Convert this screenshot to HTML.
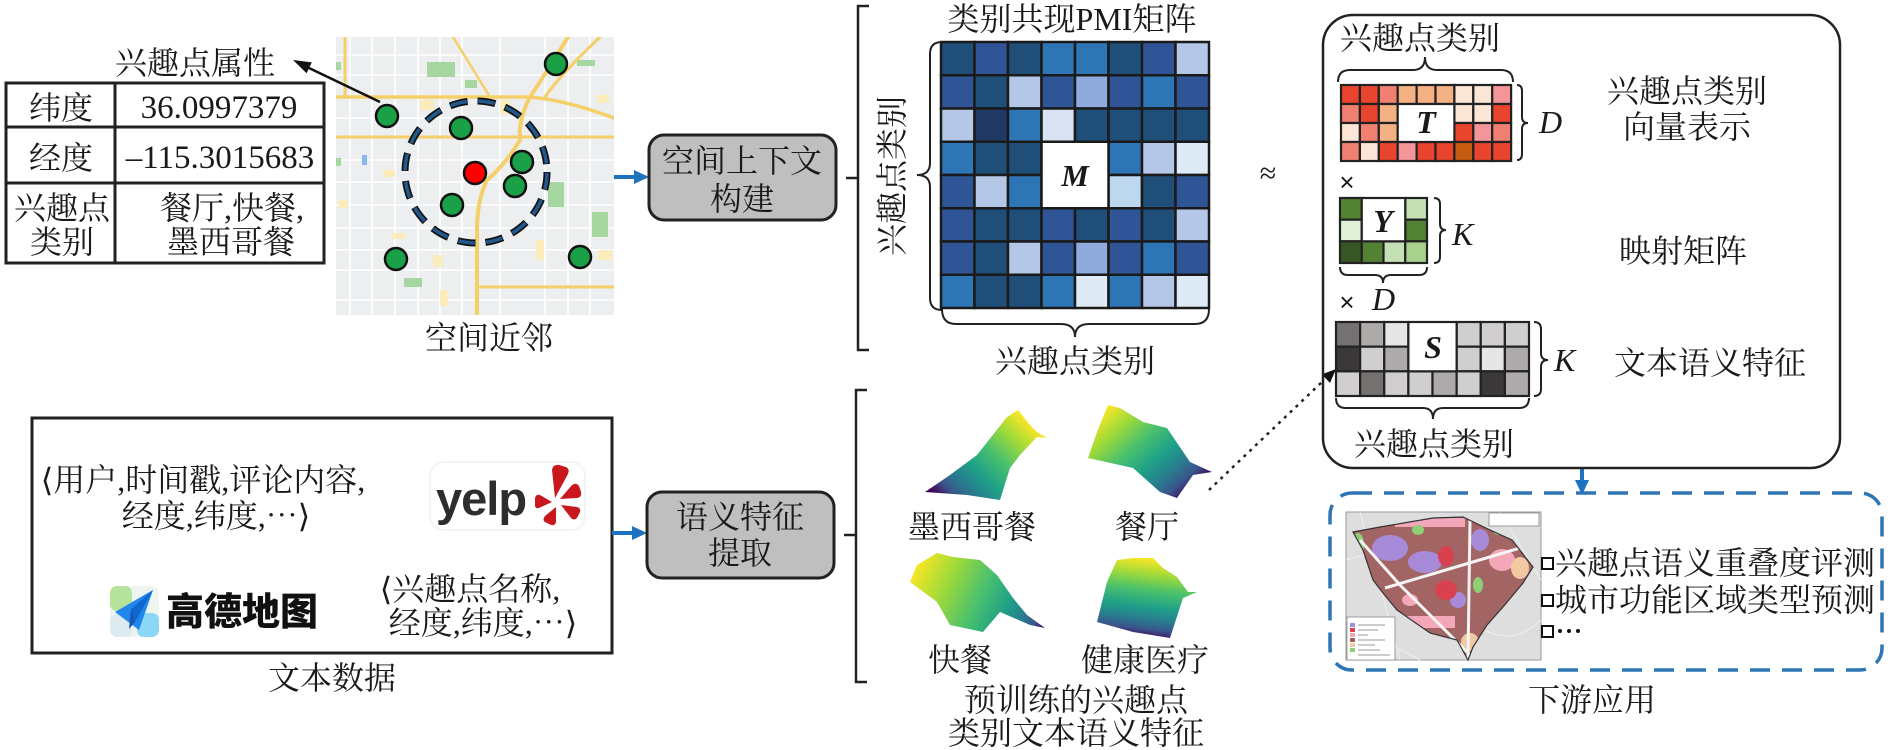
<!DOCTYPE html>
<html><head><meta charset="utf-8">
<style>
html,body{margin:0;padding:0;background:#fff;}
svg{display:block;}
text{font-family:"Liberation Serif","Noto Serif CJK SC","Noto Serif SC","Source Han Serif SC","Noto Serif CJK JP",serif;font-size:32px;fill:#1a1a1a;}
.c{text-anchor:middle;}
.it{font-style:italic;}
.bi{font-style:italic;font-weight:bold;}
</style></head>
<body>
<svg width="1888" height="750" viewBox="0 0 1888 750" xmlns="http://www.w3.org/2000/svg">
<defs>
<linearGradient id="g1" gradientUnits="userSpaceOnUse" x1="1018" y1="410" x2="935" y2="495">
<stop offset="0" stop-color="#fde725"/><stop offset="0.2" stop-color="#a0da39"/><stop offset="0.4" stop-color="#4ac16d"/><stop offset="0.6" stop-color="#1fa187"/><stop offset="0.75" stop-color="#277f8e"/><stop offset="0.88" stop-color="#39568c"/><stop offset="1" stop-color="#440154"/></linearGradient>
<linearGradient id="g2" gradientUnits="userSpaceOnUse" x1="1105" y1="408" x2="1185" y2="498">
<stop offset="0" stop-color="#fde725"/><stop offset="0.2" stop-color="#a0da39"/><stop offset="0.4" stop-color="#4ac16d"/><stop offset="0.6" stop-color="#1fa187"/><stop offset="0.75" stop-color="#277f8e"/><stop offset="0.88" stop-color="#39568c"/><stop offset="1" stop-color="#440154"/></linearGradient>
<linearGradient id="g3" gradientUnits="userSpaceOnUse" x1="915" y1="565" x2="1045" y2="628">
<stop offset="0" stop-color="#fde725"/><stop offset="0.25" stop-color="#a0da39"/><stop offset="0.5" stop-color="#4ac16d"/><stop offset="0.7" stop-color="#1fa187"/><stop offset="0.82" stop-color="#277f8e"/><stop offset="0.92" stop-color="#39568c"/><stop offset="1" stop-color="#440154"/></linearGradient>
<linearGradient id="g4" gradientUnits="userSpaceOnUse" x1="1150" y1="558" x2="1140" y2="638">
<stop offset="0" stop-color="#fde725"/><stop offset="0.2" stop-color="#a0da39"/><stop offset="0.4" stop-color="#4ac16d"/><stop offset="0.6" stop-color="#1fa187"/><stop offset="0.75" stop-color="#277f8e"/><stop offset="0.88" stop-color="#39568c"/><stop offset="1" stop-color="#440154"/></linearGradient>
<clipPath id="mapclip"><rect x="336" y="37" width="278" height="278"/></clipPath>
<clipPath id="luclip"><polygon points="1353,532 1380,527 1433,518 1463,517 1490,530 1512,540 1533,567 1523,583 1503,607 1487,625 1473,647 1468,660 1457,640 1430,633 1397,610 1383,593 1373,580 1363,550"/></clipPath>
</defs>

<!-- ============ Top-left: attributes table ============ -->
<text class="c" x="195" y="74">兴趣点属性</text>
<g fill="none" stroke="#222" stroke-width="3">
<rect x="6" y="83" width="318" height="180"/>
<line x1="115" y1="83" x2="115" y2="263"/>
<line x1="6" y1="127" x2="324" y2="127"/>
<line x1="6" y1="183" x2="324" y2="183"/>
</g>
<text class="c" x="61" y="119">纬度</text>
<text class="c" x="219" y="118" style="font-size:33px">36.0997379</text>
<text class="c" x="61" y="169">经度</text>
<text class="c" x="220" y="168" style="font-size:33px">–115.3015683</text>
<text class="c" x="62" y="219">兴趣点</text>
<text class="c" x="62" y="253">类别</text>
<text class="c" x="232" y="219">餐厅,快餐,</text>
<text class="c" x="231" y="253">墨西哥餐</text>

<!-- ============ Map ============ -->
<g clip-path="url(#mapclip)">
<rect x="336" y="37" width="278" height="278" fill="#eceef0"/>
<g stroke="#fff" stroke-width="1.6">
<line x1="350" y1="37" x2="350" y2="315"/><line x1="372" y1="37" x2="372" y2="315"/>
<line x1="395" y1="37" x2="395" y2="315"/><line x1="418" y1="37" x2="418" y2="315"/>
<line x1="440" y1="37" x2="440" y2="315"/><line x1="462" y1="37" x2="462" y2="315"/>
<line x1="500" y1="37" x2="500" y2="315"/><line x1="545" y1="37" x2="545" y2="315"/>
<line x1="568" y1="37" x2="568" y2="315"/><line x1="590" y1="37" x2="590" y2="315"/>
<line x1="336" y1="55" x2="614" y2="55"/><line x1="336" y1="75" x2="614" y2="75"/>
<line x1="336" y1="118" x2="614" y2="118"/><line x1="336" y1="160" x2="614" y2="160"/>
<line x1="336" y1="182" x2="614" y2="182"/><line x1="336" y1="205" x2="614" y2="205"/>
<line x1="336" y1="228" x2="614" y2="228"/><line x1="336" y1="250" x2="614" y2="250"/>
<line x1="336" y1="270" x2="614" y2="270"/><line x1="336" y1="300" x2="614" y2="300"/>
</g>
<g fill="#fbedbb">
<rect x="420" y="100" width="14" height="10"/><rect x="338" y="200" width="10" height="8"/>
<rect x="500" y="100" width="10" height="14"/><rect x="383" y="170" width="12" height="7"/>
<rect x="433" y="255" width="10" height="12"/><rect x="598" y="250" width="14" height="10"/>
<rect x="536" y="240" width="8" height="20"/><rect x="392" y="233" width="14" height="6"/>
<rect x="597" y="95" width="12" height="8"/><rect x="440" y="290" width="8" height="16"/>
</g>
<g fill="#a7d7a0">
<rect x="427" y="62" width="28" height="15"/><rect x="465" y="80" width="12" height="8"/>
<rect x="577" y="60" width="18" height="6"/><rect x="548" y="182" width="16" height="25"/>
<rect x="592" y="212" width="16" height="25"/><rect x="404" y="278" width="18" height="9"/>
<rect x="336" y="62" width="5" height="8"/><rect x="336" y="158" width="5" height="8"/>
</g>
<rect x="362" y="155" width="5" height="10" fill="#8ab4f8"/>
<g fill="none" stroke="#f5cf68" stroke-linecap="round">
<path d="M568,37 Q548,70 530,97 Q518,120 520,140 Q505,165 487,180 Q477,200 477,230 L477,315" stroke-width="4"/>
<path d="M336,97 L525,97 Q560,98 614,118" stroke-width="3.5"/>
<path d="M336,137 L614,137" stroke-width="3"/>
<path d="M453,37 L490,97" stroke-width="2.5"/>
<path d="M477,287 L614,287" stroke-width="3"/>
<path d="M345,37 L345,97" stroke-width="3"/>
<path d="M545,97 Q560,75 600,37" stroke-width="3"/>
</g>
</g>
<!-- dashed circle -->
<circle cx="476" cy="172" r="71" fill="none" stroke="#111" stroke-width="7" stroke-dasharray="18 10"/>
<circle cx="476" cy="172" r="71" fill="none" stroke="#22588c" stroke-width="3.6" stroke-dasharray="16.5 11.5" stroke-dashoffset="-0.75"/>
<!-- dots -->
<g fill="#1aa047" stroke="#111" stroke-width="2.5">
<circle cx="556" cy="64" r="11"/><circle cx="387" cy="116" r="11"/>
<circle cx="461" cy="128" r="11"/><circle cx="522" cy="162" r="11"/>
<circle cx="515" cy="186" r="11"/><circle cx="452" cy="205" r="11"/>
<circle cx="396" cy="259" r="11"/><circle cx="580" cy="257" r="11"/>
</g>
<circle cx="475" cy="173" r="11" fill="#ff0000" stroke="#111" stroke-width="2.5"/>
<!-- arrow to attributes -->
<line x1="380" y1="102" x2="309" y2="68" stroke="#111" stroke-width="2.5"/>
<polygon points="293,60 311.8,62.4 306.6,73.3" fill="#111"/>
<text class="c" x="489" y="349">空间近邻</text>

<!-- ============ Text data box ============ -->
<rect x="32" y="418" width="580" height="235" fill="none" stroke="#222" stroke-width="3"/>
<text class="c" x="203" y="491">⟨用户,时间戳,评论内容,</text>
<text class="c" x="216" y="527">经度,纬度,<tspan style='font-family:"Noto Serif CJK SC","Noto Sans CJK SC",serif'>…</tspan>⟩</text>
<text class="c" x="470" y="600">⟨兴趣点名称,</text>
<text class="c" x="483" y="634">经度,纬度,<tspan style='font-family:"Noto Serif CJK SC","Noto Sans CJK SC",serif'>…</tspan>⟩</text>
<!-- yelp -->
<rect x="430" y="462" width="155" height="68" rx="14" fill="#fff" stroke="#f3f3f3" stroke-width="2"/>
<text x="436" y="515" style='font-family:"Liberation Sans",sans-serif;font-weight:bold;font-size:47px;fill:#2d2d2d;letter-spacing:-1px'>yelp</text>
<g fill="#c8181e">
<path d="M555,498 L552,470 Q553,464 559,465 L566,467 Q570,469 568,474 Z"/>
<path d="M560,499 L572,485 Q576,482 579,486 L581,492 Q582,497 577,498 Z"/>
<path d="M561,505 L577,507 Q581,508 580,512 L577,518 Q574,521 571,518 Z"/>
<path d="M556,507 L556,522 Q555,526 551,525 L545,522 Q542,520 545,516 Z"/>
<path d="M552,502 L539,508 Q535,509 535,505 L535,498 Q536,494 540,495 Z"/>
</g>
<!-- gaode -->
<g>
<rect x="110" y="586" width="49" height="51" rx="8" fill="#eef5f0"/>
<rect x="110" y="586" width="22" height="25" rx="7" fill="#b6e39c"/>
<rect x="137" y="613" width="22" height="24" rx="7" fill="#8dd7f6"/>
<rect x="110" y="614" width="22" height="23" rx="7" fill="#dcebf1"/>
<polygon points="115,612 153,590 139,630" fill="#1f86ec"/>
<polygon points="131,609 153,590 135,622" fill="#0f66cf"/>
<polygon points="131,609 135,622 129,629" fill="#1556b3"/>
</g>
<text x="166" y="625" style='font-family:"Noto Sans CJK SC",sans-serif;font-weight:900;font-size:38px;fill:#111'>高德地图</text>
<text class="c" x="332" y="689">文本数据</text>

<!-- ============ Blue arrows ============ -->
<g stroke="#1e73be" stroke-width="4">
<line x1="614" y1="177" x2="636" y2="177"/>
<line x1="612" y1="533" x2="634" y2="533"/>
<line x1="1582" y1="468" x2="1582" y2="482"/>
</g>
<g fill="#1e73be">
<polygon points="649,177 634,170 634,184"/>
<polygon points="647,533 632,526 632,540"/>
<polygon points="1582,495 1575,480 1589,480"/>
</g>

<!-- ============ Process boxes ============ -->
<rect x="649" y="135" width="187" height="85" rx="15" fill="#bfbfbf" stroke="#222" stroke-width="3"/>
<text class="c" x="742" y="172">空间上下文</text>
<text class="c" x="742" y="210">构建</text>
<rect x="647" y="492" width="187" height="86" rx="15" fill="#bfbfbf" stroke="#222" stroke-width="3"/>
<text class="c" x="740" y="528">语义特征</text>
<text class="c" x="740" y="564">提取</text>

<!-- brackets -->
<g fill="none" stroke="#222" stroke-width="2.5">
<path d="M869,6 L858,6 L858,350 L869,350 M846,178 L858,178"/>
<path d="M867,390 L856,390 L856,682 L867,682 M844,535 L856,535"/>
</g>

<!-- ============ PMI matrix ============ -->
<text class="c" x="1072" y="30">类别共现PMI矩阵</text>
<text class="c" transform="translate(892,176) rotate(-90)" y="11">兴趣点类别</text>
<g stroke="#1a1a1a" stroke-width="2.5">
<rect x="941" y="42" width="33.5" height="33.25" fill="#1f4e79"/><rect x="974.5" y="42" width="33.5" height="33.25" fill="#2f5597"/><rect x="1008" y="42" width="33.5" height="33.25" fill="#1f4e79"/><rect x="1041.5" y="42" width="33.5" height="33.25" fill="#2e75b6"/><rect x="1075" y="42" width="33.5" height="33.25" fill="#2e75b6"/><rect x="1108.5" y="42" width="33.5" height="33.25" fill="#1f4e79"/><rect x="1142" y="42" width="33.5" height="33.25" fill="#2f5597"/><rect x="1175.5" y="42" width="33.5" height="33.25" fill="#b4c7e7"/>
<rect x="941" y="75.25" width="33.5" height="33.25" fill="#2f5597"/><rect x="974.5" y="75.25" width="33.5" height="33.25" fill="#1f4e79"/><rect x="1008" y="75.25" width="33.5" height="33.25" fill="#b4c7e7"/><rect x="1041.5" y="75.25" width="33.5" height="33.25" fill="#2f5597"/><rect x="1075" y="75.25" width="33.5" height="33.25" fill="#8faadc"/><rect x="1108.5" y="75.25" width="33.5" height="33.25" fill="#2f5597"/><rect x="1142" y="75.25" width="33.5" height="33.25" fill="#2e75b6"/><rect x="1175.5" y="75.25" width="33.5" height="33.25" fill="#2f5597"/>
<rect x="941" y="108.5" width="33.5" height="33.25" fill="#b4c7e7"/><rect x="974.5" y="108.5" width="33.5" height="33.25" fill="#203864"/><rect x="1008" y="108.5" width="33.5" height="33.25" fill="#2e75b6"/><rect x="1041.5" y="108.5" width="33.5" height="33.25" fill="#dae3f3"/><rect x="1075" y="108.5" width="33.5" height="33.25" fill="#1f4e79"/><rect x="1108.5" y="108.5" width="33.5" height="33.25" fill="#1f4e79"/><rect x="1142" y="108.5" width="33.5" height="33.25" fill="#1f4e79"/><rect x="1175.5" y="108.5" width="33.5" height="33.25" fill="#1f4e79"/>
<rect x="941" y="141.75" width="33.5" height="33.25" fill="#2e75b6"/><rect x="974.5" y="141.75" width="33.5" height="33.25" fill="#1f4e79"/><rect x="1008" y="141.75" width="33.5" height="33.25" fill="#1f4e79"/><rect x="1108.5" y="141.75" width="33.5" height="33.25" fill="#2e75b6"/><rect x="1142" y="141.75" width="33.5" height="33.25" fill="#b4c7e7"/><rect x="1175.5" y="141.75" width="33.5" height="33.25" fill="#deebf7"/>
<rect x="941" y="175" width="33.5" height="33.25" fill="#2f5597"/><rect x="974.5" y="175" width="33.5" height="33.25" fill="#b4c7e7"/><rect x="1008" y="175" width="33.5" height="33.25" fill="#2e75b6"/><rect x="1108.5" y="175" width="33.5" height="33.25" fill="#bdd7ee"/><rect x="1142" y="175" width="33.5" height="33.25" fill="#1f4e79"/><rect x="1175.5" y="175" width="33.5" height="33.25" fill="#2f5597"/>
<rect x="941" y="208.25" width="33.5" height="33.25" fill="#2f5597"/><rect x="974.5" y="208.25" width="33.5" height="33.25" fill="#1f4e79"/><rect x="1008" y="208.25" width="33.5" height="33.25" fill="#1f4e79"/><rect x="1041.5" y="208.25" width="33.5" height="33.25" fill="#2f5597"/><rect x="1075" y="208.25" width="33.5" height="33.25" fill="#1f4e79"/><rect x="1108.5" y="208.25" width="33.5" height="33.25" fill="#2f5597"/><rect x="1142" y="208.25" width="33.5" height="33.25" fill="#1f4e79"/><rect x="1175.5" y="208.25" width="33.5" height="33.25" fill="#b4c7e7"/>
<rect x="941" y="241.5" width="33.5" height="33.25" fill="#2f5597"/><rect x="974.5" y="241.5" width="33.5" height="33.25" fill="#1f4e79"/><rect x="1008" y="241.5" width="33.5" height="33.25" fill="#b4c7e7"/><rect x="1041.5" y="241.5" width="33.5" height="33.25" fill="#2f5597"/><rect x="1075" y="241.5" width="33.5" height="33.25" fill="#8faadc"/><rect x="1108.5" y="241.5" width="33.5" height="33.25" fill="#2f5597"/><rect x="1142" y="241.5" width="33.5" height="33.25" fill="#2e75b6"/><rect x="1175.5" y="241.5" width="33.5" height="33.25" fill="#2f5597"/>
<rect x="941" y="274.75" width="33.5" height="33.25" fill="#2e75b6"/><rect x="974.5" y="274.75" width="33.5" height="33.25" fill="#1f4e79"/><rect x="1008" y="274.75" width="33.5" height="33.25" fill="#1f4e79"/><rect x="1041.5" y="274.75" width="33.5" height="33.25" fill="#2e75b6"/><rect x="1075" y="274.75" width="33.5" height="33.25" fill="#deebf7"/><rect x="1108.5" y="274.75" width="33.5" height="33.25" fill="#2e75b6"/><rect x="1142" y="274.75" width="33.5" height="33.25" fill="#b4c7e7"/><rect x="1175.5" y="274.75" width="33.5" height="33.25" fill="#deebf7"/>
<rect x="1041.5" y="141.75" width="67" height="66.5" fill="#fff"/>
</g>
<text class="c bi" x="1075" y="186" style="font-size:31px">M</text>
<g fill="none" stroke="#222" stroke-width="2">
<path d="M942,42 Q930,42 930,54 L930,163 Q930,175 917,175 Q930,175 930,187 L930,298 Q930,310 942,310"/>
<path d="M942,309 Q942,324 956,324 L1061,324 Q1075,324 1075,337 Q1075,324 1089,324 L1195,324 Q1209,324 1209,309"/>
</g>
<text class="c" x="1075" y="372">兴趣点类别</text>
<text class="c" x="1268" y="183" style="font-size:30px">≈</text>

<!-- ============ Surfaces ============ -->
<polygon points="925,492 950,475 977,455 1007,417 1018,410 1030,425 1037,432 1047,438 1037,437 1020,455 1010,468 1000,500 967,495" fill="url(#g1)"/>
<polygon points="1088,458 1097,432 1108,405 1120,408 1143,422 1167,428 1190,462 1212,472 1193,475 1177,498 1160,492 1133,468" fill="url(#g2)"/>
<polygon points="910,582 917,565 937,553 953,557 980,560 997,575 1013,598 1027,615 1045,628 1030,625 1000,612 983,632 950,625 937,602" fill="url(#g3)"/>
<polygon points="1097,622 1107,582 1117,560 1133,558 1153,558 1163,568 1177,577 1188,592 1197,592 1183,598 1170,638 1133,632" fill="url(#g4)"/>
<text class="c" x="972" y="538">墨西哥餐</text>
<text class="c" x="1147" y="538">餐厅</text>
<text class="c" x="960" y="671">快餐</text>
<text class="c" x="1145" y="671">健康医疗</text>
<text class="c" x="1076" y="711">预训练的兴趣点</text>
<text class="c" x="1076" y="744">类别文本语义特征</text>

<!-- dotted arrow -->
<line x1="1209" y1="490" x2="1324" y2="380" stroke="#222" stroke-width="2.5" stroke-dasharray="3 5"/>
<polygon points="1336,369 1330,383 1321.8,374.4" fill="#111"/>

<!-- ============ Right panel ============ -->
<rect x="1323" y="15" width="517" height="453" rx="30" fill="none" stroke="#222" stroke-width="2.5"/>
<text class="c" x="1420" y="49">兴趣点类别</text>
<g stroke="#222" stroke-width="2.2">
<rect x="1341" y="85" width="18.9" height="19" fill="#e8442e"/><rect x="1359.9" y="85" width="18.9" height="19" fill="#e8442e"/><rect x="1378.8" y="85" width="18.9" height="19" fill="#f08070"/><rect x="1397.7" y="85" width="18.9" height="19" fill="#f4b183"/><rect x="1416.6" y="85" width="18.9" height="19" fill="#f4b183"/><rect x="1435.5" y="85" width="18.9" height="19" fill="#f4b183"/><rect x="1454.4" y="85" width="18.9" height="19" fill="#fbe5d6"/><rect x="1473.3" y="85" width="18.9" height="19" fill="#fbe5d6"/><rect x="1492.2" y="85" width="18.9" height="19" fill="#f4959a"/>
<rect x="1341" y="104" width="18.9" height="19" fill="#f08070"/><rect x="1359.9" y="104" width="18.9" height="19" fill="#e8442e"/><rect x="1378.8" y="104" width="18.9" height="19" fill="#f4b183"/><rect x="1454.4" y="104" width="18.9" height="19" fill="#fbe5d6"/><rect x="1473.3" y="104" width="18.9" height="19" fill="#fbe5d6"/><rect x="1492.2" y="104" width="18.9" height="19" fill="#e8442e"/>
<rect x="1341" y="123" width="18.9" height="19" fill="#fbe5d6"/><rect x="1359.9" y="123" width="18.9" height="19" fill="#f08070"/><rect x="1378.8" y="123" width="18.9" height="19" fill="#f4b183"/><rect x="1454.4" y="123" width="18.9" height="19" fill="#e8442e"/><rect x="1473.3" y="123" width="18.9" height="19" fill="#f4959a"/><rect x="1492.2" y="123" width="18.9" height="19" fill="#f08070"/>
<rect x="1341" y="142" width="18.9" height="19" fill="#f08070"/><rect x="1359.9" y="142" width="18.9" height="19" fill="#fbe5d6"/><rect x="1378.8" y="142" width="18.9" height="19" fill="#e8442e"/><rect x="1397.7" y="142" width="18.9" height="19" fill="#f4959a"/><rect x="1416.6" y="142" width="18.9" height="19" fill="#e8442e"/><rect x="1435.5" y="142" width="18.9" height="19" fill="#e8442e"/><rect x="1454.4" y="142" width="18.9" height="19" fill="#c55a11"/><rect x="1473.3" y="142" width="18.9" height="19" fill="#e8442e"/><rect x="1492.2" y="142" width="18.9" height="19" fill="#e8442e"/>
<rect x="1397.7" y="104" width="56.7" height="38" fill="#fff"/>
</g>
<text class="c bi" x="1426" y="133">T</text>
<g stroke="#222" stroke-width="2.2">
<rect x="1340" y="198" width="21.75" height="21.67" fill="#548235"/><rect x="1405.25" y="198" width="21.75" height="21.67" fill="#c5e0b4"/>
<rect x="1340" y="219.67" width="21.75" height="21.67" fill="#e2f0d9"/><rect x="1405.25" y="219.67" width="21.75" height="21.67" fill="#548235"/>
<rect x="1340" y="241.33" width="21.75" height="21.67" fill="#375623"/><rect x="1361.75" y="241.33" width="21.75" height="21.67" fill="#548235"/><rect x="1383.5" y="241.33" width="21.75" height="21.67" fill="#c5e0b4"/><rect x="1405.25" y="241.33" width="21.75" height="21.67" fill="#a9d18e"/>
<rect x="1361.75" y="198" width="43.5" height="43.33" fill="#fff"/>
</g>
<text class="c bi" x="1383" y="232">Y</text>
<g stroke="#222" stroke-width="2.2">
<rect x="1336" y="322" width="24.125" height="24.67" fill="#767171"/><rect x="1360.125" y="322" width="24.125" height="24.67" fill="#aeaaaa"/><rect x="1384.25" y="322" width="24.125" height="24.67" fill="#e7e6e6"/><rect x="1456.625" y="322" width="24.125" height="24.67" fill="#d0cece"/><rect x="1480.75" y="322" width="24.125" height="24.67" fill="#d0cece"/><rect x="1504.875" y="322" width="24.125" height="24.67" fill="#d0cece"/>
<rect x="1336" y="346.67" width="24.125" height="24.67" fill="#3a3838"/><rect x="1360.125" y="346.67" width="24.125" height="24.67" fill="#d0cece"/><rect x="1384.25" y="346.67" width="24.125" height="24.67" fill="#aeaaaa"/><rect x="1456.625" y="346.67" width="24.125" height="24.67" fill="#d0cece"/><rect x="1480.75" y="346.67" width="24.125" height="24.67" fill="#e7e6e6"/><rect x="1504.875" y="346.67" width="24.125" height="24.67" fill="#aeaaaa"/>
<rect x="1336" y="371.33" width="24.125" height="24.67" fill="#d0cece"/><rect x="1360.125" y="371.33" width="24.125" height="24.67" fill="#767171"/><rect x="1384.25" y="371.33" width="24.125" height="24.67" fill="#d0cece"/><rect x="1408.375" y="371.33" width="24.125" height="24.67" fill="#d0cece"/><rect x="1432.5" y="371.33" width="24.125" height="24.67" fill="#aeaaaa"/><rect x="1456.625" y="371.33" width="24.125" height="24.67" fill="#d0cece"/><rect x="1480.75" y="371.33" width="24.125" height="24.67" fill="#3a3838"/><rect x="1504.875" y="371.33" width="24.125" height="24.67" fill="#aeaaaa"/>
<rect x="1408.375" y="322" width="48.25" height="49.33" fill="#fff"/>
</g>
<text class="c bi" x="1433" y="358">S</text>
<g fill="none" stroke="#222" stroke-width="2">
<path d="M1338,82 Q1338,70 1350,70 L1413,70 Q1425,70 1425,57 Q1425,70 1437,70 L1501,70 Q1513,70 1513,82"/>
<path d="M1517,85 Q1522,85 1522,91 L1522,117 Q1522,123 1528,123 Q1522,123 1522,129 L1522,154 Q1522,160 1517,160"/>
<path d="M1434,198 Q1440,198 1440,204 L1440,224 Q1440,230 1446,230 Q1440,230 1440,236 L1440,257 Q1440,263 1434,263"/>
<path d="M1340,267 Q1340,275 1348,275 L1375,275 Q1383,275 1383,283 Q1383,275 1391,275 L1419,275 Q1427,275 1427,267"/>
<path d="M1534,322 Q1541,322 1541,329 L1541,353 Q1541,360 1548,360 Q1541,360 1541,367 L1541,389 Q1541,396 1534,396"/>
<path d="M1336,398 Q1336,408 1346,408 L1423,408 Q1433,408 1433,419 Q1433,408 1443,408 L1519,408 Q1529,408 1529,398"/>
</g>
<text class="it" x="1539" y="133">D</text>
<text class="it" x="1452" y="245">K</text>
<text class="it" x="1372" y="310">D</text>
<text class="it" x="1554" y="371">K</text>
<text class="c" x="1347" y="191" style='font-family:"Liberation Sans",sans-serif;font-size:26px'>×</text>
<text class="c" x="1347" y="311" style='font-family:"Liberation Sans",sans-serif;font-size:26px'>×</text>
<text class="c" x="1687" y="102">兴趣点类别</text>
<text class="c" x="1687" y="138">向量表示</text>
<text class="c" x="1683" y="262">映射矩阵</text>
<text class="c" x="1710" y="374">文本语义特征</text>
<text class="c" x="1434" y="455">兴趣点类别</text>

<!-- ============ Downstream ============ -->
<rect x="1330" y="493" width="552" height="177" rx="22" fill="none" stroke="#2e75b6" stroke-width="3.5" stroke-dasharray="20 12"/>
<rect x="1346" y="512" width="195" height="148" fill="#dedede" stroke="#999" stroke-width="1"/>
<g stroke="#eeeeee" stroke-width="1" fill="none">
<path d="M1346,560 Q1400,540 1450,600 T1541,620"/><path d="M1360,512 L1400,660"/><path d="M1500,512 L1541,580"/><path d="M1346,620 L1420,660"/>
</g>
<g clip-path="url(#luclip)">
<rect x="1346" y="512" width="195" height="148" fill="#a36564"/>
<ellipse cx="1390" cy="548" rx="18" ry="13" fill="#a88bd8"/>
<ellipse cx="1425" cy="562" rx="17" ry="11" fill="#a88bd8"/>
<ellipse cx="1480" cy="540" rx="9" ry="11" fill="#a88bd8"/>
<ellipse cx="1458" cy="600" rx="8" ry="8" fill="#a88bd8"/>
<ellipse cx="1446" cy="556" rx="8" ry="10" fill="#d9414f"/>
<ellipse cx="1446" cy="590" rx="11" ry="10" fill="#d9414f"/>
<rect x="1395" y="518" width="70" height="9" fill="#f4a7b9"/>
<ellipse cx="1502" cy="560" rx="13" ry="11" fill="#f4a7b9"/>
<rect x="1390" y="616" width="65" height="12" fill="#f4a7b9"/>
<ellipse cx="1410" cy="600" rx="8" ry="6" fill="#f4a7b9"/>
<ellipse cx="1520" cy="568" rx="9" ry="11" fill="#f2c9a0"/>
<ellipse cx="1366" cy="582" rx="7" ry="11" fill="#f2c9a0"/>
<ellipse cx="1470" cy="642" rx="9" ry="9" fill="#f2c9a0"/>
<ellipse cx="1358" cy="545" rx="6" ry="12" fill="#8fcf75"/>
<ellipse cx="1478" cy="585" rx="5" ry="8" fill="#8fcf75"/>
<ellipse cx="1418" cy="530" rx="6" ry="5" fill="#8fcf75"/>
<ellipse cx="1498" cy="530" rx="5" ry="5" fill="#8fcf75"/>
<g fill="none" stroke="#f4f4f4" stroke-width="3">
<polyline points="1360,540 1400,585 1470,655"/>
<polyline points="1385,588 1520,548"/>
<polyline points="1470,520 1468,660"/>
</g>
</g>
<polygon points="1353,532 1380,527 1433,518 1463,517 1490,530 1512,540 1533,567 1523,583 1503,607 1487,625 1473,647 1468,660 1457,640 1430,633 1397,610 1383,593 1373,580 1363,550" fill="none" stroke="#333" stroke-width="1.2"/>
<rect x="1347" y="617" width="48" height="43" fill="#fff" stroke="#888" stroke-width="0.8"/>
<g>
<rect x="1350" y="623" width="5" height="4" fill="#a88bd8"/><rect x="1350" y="628" width="5" height="4" fill="#d9414f"/>
<rect x="1350" y="633" width="5" height="4" fill="#f4a7b9"/><rect x="1350" y="638" width="5" height="4" fill="#a05f5e"/>
<rect x="1350" y="643" width="5" height="4" fill="#f2c9a0"/><rect x="1350" y="648" width="5" height="4" fill="#8fcf75"/>
<g stroke="#999" stroke-width="1"><line x1="1358" y1="625" x2="1385" y2="625"/><line x1="1358" y1="630" x2="1378" y2="630"/><line x1="1358" y1="635" x2="1368" y2="635"/><line x1="1358" y1="640" x2="1385" y2="640"/><line x1="1358" y1="645" x2="1375" y2="645"/><line x1="1358" y1="650" x2="1380" y2="650"/><line x1="1358" y1="655" x2="1390" y2="655"/></g>
</g>
<rect x="1489" y="513" width="50" height="13" fill="#fff" stroke="#888" stroke-width="0.8"/>
<g fill="none" stroke="#111" stroke-width="2">
<rect x="1542" y="558" width="11" height="11"/>
<rect x="1542" y="595" width="11" height="11"/>
<rect x="1542" y="626" width="11" height="11"/>
</g>
<text x="1555" y="574">兴趣点语义重叠度评测</text>
<text x="1555" y="611">城市功能区域类型预测</text>
<g fill="#111"><circle cx="1560" cy="631" r="2"/><circle cx="1569" cy="631" r="2"/><circle cx="1578" cy="631" r="2"/></g>
<text class="c" x="1592" y="711">下游应用</text>
</svg>
</body></html>
